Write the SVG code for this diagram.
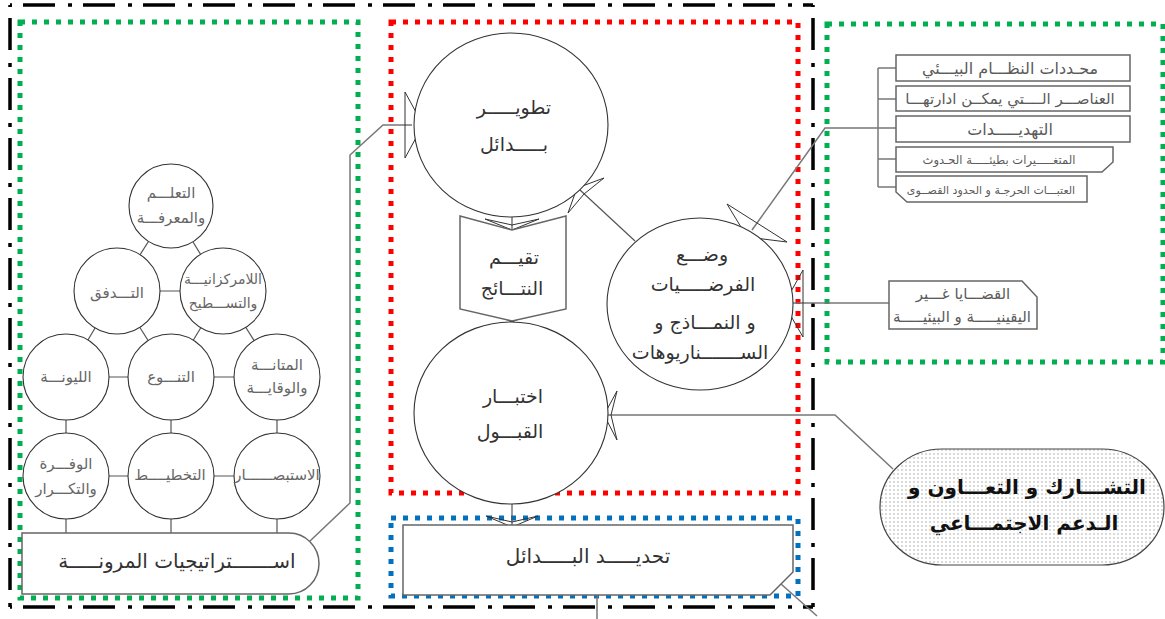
<svg xmlns="http://www.w3.org/2000/svg" width="1165" height="619" viewBox="0 0 1165 619">
  <style>
    .frame { fill: none; stroke: #000; stroke-width: 3.5; stroke-dasharray: 32 13 4 11; stroke-dashoffset: 47; }
    .dots { fill: none; stroke-width: 5; stroke-dasharray: 5 7; }
    .green { stroke: #00b050; }
    .red { stroke: #ff0000; }
    .blue { stroke: #0070c0; }
    .node { fill: #fff; stroke: #333; stroke-width: 1.1; }
    .box { fill: #fff; stroke: #666; stroke-width: 1.5; }
    .link { fill: none; stroke: #555; stroke-width: 1.2; }
    .conn { fill: none; stroke: #777; stroke-width: 1.5; }
    .head { fill: none; stroke: #333; stroke-width: 1; }
    text { font-family: "DejaVu Sans", sans-serif; text-anchor: middle; }
    .t-small { font-size: 15px; fill: #666; }
    .t-main { font-size: 19px; fill: #333; }
    .t-box { font-size: 15px; fill: #5a5a5a; }
    .t-bold { font-size: 20px; fill: #111; font-weight: bold; }
  </style>
  <defs>
    <pattern id="dotfill" width="4" height="4" patternUnits="userSpaceOnUse">
      <rect width="4" height="4" fill="#fff"/>
      <circle cx="2" cy="2" r="0.7" fill="#999"/>
    </pattern>
  </defs>

  <rect width="1165" height="619" fill="#fff"/>

  <!-- outer dash-dot frame -->
  <g id="frame">
    <line class="frame" x1="10" y1="5" x2="813" y2="5"/>
    <line class="frame" x1="10" y1="5" x2="10" y2="607"/>
    <line class="frame" x1="10" y1="607" x2="813" y2="607"/>
    <line class="frame" x1="813" y1="5" x2="813" y2="607"/>
  </g>

  <!-- dotted group outlines -->
  <g id="groups">
    <rect class="dots green" x="20" y="22" width="338" height="576"/>
    <rect class="dots red" x="391" y="22" width="407" height="471"/>
    <rect class="dots blue" x="391" y="518" width="407" height="78"/>
    <rect class="dots green" x="827" y="24" width="336" height="338"/>
  </g>

  <!-- connectors -->
  <g id="connectors">
    <!-- resilience web -->
    <g class="link">
      <line x1="171" y1="206" x2="117" y2="291"/>
      <line x1="171" y1="206" x2="223" y2="291"/>
      <line x1="117" y1="291" x2="223" y2="291"/>
      <line x1="117" y1="291" x2="66" y2="377"/>
      <line x1="117" y1="291" x2="171" y2="377"/>
      <line x1="223" y1="291" x2="171" y2="377"/>
      <line x1="223" y1="291" x2="277" y2="377"/>
      <line x1="66" y1="377" x2="277" y2="377"/>
      <line x1="66" y1="377" x2="66" y2="533"/>
      <line x1="171" y1="377" x2="171" y2="533"/>
      <line x1="277" y1="377" x2="277" y2="533"/>
      <line x1="66" y1="476" x2="277" y2="476"/>
    </g>
    <!-- strategies to alternatives -->
    <polyline class="conn" points="310,541 350,503 350,155 383,125 412,125"/>
    <polygon class="head" points="405,92 423,125 405,158"/>
    <!-- assumptions to alternatives -->
    <line class="link" x1="635" y1="241" x2="580" y2="190"/>
    <polygon class="head" points="604,178 577,188 568,213 584,194"/>
    <!-- vertical flow -->
    <line class="link" x1="512" y1="216" x2="512" y2="229"/>
    <polygon class="head" points="485,219 512,230 539,219 512,225"/>
    <line class="link" x1="512" y1="310" x2="512" y2="321"/>
    <polygon class="head" points="487,311 512,322 537,311 512,317"/>
    <line class="link" x1="512" y1="504" x2="512" y2="527"/>
    <polygon class="head" points="486,516 512,527 538,516 512,522"/>
    <!-- ecosystem factors to assumptions -->
    <polyline class="conn" points="897,128 825,128 752,230"/>
    <polygon class="head" points="727,204 747,237 787,242"/>
    <line class="conn" x1="878" y1="68" x2="878" y2="187"/>
    <line class="conn" x1="878" y1="68" x2="896" y2="68"/>
    <line class="conn" x1="878" y1="99" x2="896" y2="99"/>
    <line class="conn" x1="878" y1="159" x2="896" y2="159"/>
    <line class="conn" x1="878" y1="187" x2="896" y2="187"/>
    <!-- uncertainty to assumptions -->
    <line class="conn" x1="889" y1="303" x2="787" y2="303"/>
    <polygon class="head" points="803,270 784,304 803,337"/>
    <!-- participation to acceptance test -->
    <polyline class="conn" points="893,469 835,415 606,415"/>
    <polygon class="head" points="617,391 604,415 617,440 611,415"/>
    <!-- lower stubs -->
    <line class="conn" x1="597" y1="595" x2="597" y2="619"/>
    <line class="conn" x1="781" y1="584" x2="817" y2="616"/>
  </g>

  <!-- resilience circles -->
  <g id="n-learning">
    <circle class="node" cx="171" cy="206" r="42"/>
    <text class="t-small" x="171" y="198">التعلـــم</text>
    <text class="t-small" x="171" y="223">والمعرفـــة</text>
  </g>
  <g id="n-flow">
    <circle class="node" cx="117" cy="291" r="43"/>
    <text class="t-small" x="117" y="298">التـــدفق</text>
  </g>
  <g id="n-decentral">
    <circle class="node" cx="223" cy="291" r="43"/>
    <text class="t-small" x="223" y="284" style="font-size:14px">اللامركزانيـــة</text>
    <text class="t-small" x="223" y="308" style="font-size:14px">والتســـطيح</text>
  </g>
  <g id="n-flexibility">
    <circle class="node" cx="66" cy="377" r="43"/>
    <text class="t-small" x="66" y="382">الليونـــة</text>
  </g>
  <g id="n-diversity">
    <circle class="node" cx="171" cy="377" r="43"/>
    <text class="t-small" x="171" y="382">التنـــوع</text>
  </g>
  <g id="n-robustness">
    <circle class="node" cx="277" cy="377" r="43"/>
    <text class="t-small" x="277" y="370">المتانـــة</text>
    <text class="t-small" x="277" y="393">والوقايـــة</text>
  </g>
  <g id="n-redundancy">
    <circle class="node" cx="66" cy="476" r="43"/>
    <text class="t-small" x="66" y="469">الوفـــرة</text>
    <text class="t-small" x="66" y="494">والتكـــرار</text>
  </g>
  <g id="n-planning">
    <circle class="node" cx="171" cy="476" r="43"/>
    <text class="t-small" x="170" y="480">التخطيــــط</text>
  </g>
  <g id="n-foresight">
    <circle class="node" cx="277" cy="476" r="43"/>
    <text class="t-small" x="277" y="480">الاستبصــــــار</text>
  </g>
  <g id="n-strategies">
    <path class="box" d="M22,533 H289 A30,30.5 0 0 1 289,594 H22 Z"/>
    <text class="t-main" x="177" y="568" style="font-size:20px">اســـــــتراتيجيات المرونـــــة</text>
  </g>

  <!-- central process -->
  <g id="n-develop">
    <ellipse class="node" cx="511" cy="125" rx="97" ry="92"/>
    <text class="t-main" x="514" y="114">تطويـــــر</text>
    <text class="t-main" x="514" y="151">بـــــدائل</text>
  </g>
  <g id="n-evaluate">
    <path class="box" d="M460,216 L512,230 L566,216 V309 L512,321 L460,309 Z"/>
    <text class="t-main" x="514" y="264">تقيـــم</text>
    <text class="t-main" x="512" y="295">النتـــائج</text>
  </g>
  <g id="n-acceptance">
    <ellipse class="node" cx="511" cy="413" rx="97" ry="91"/>
    <text class="t-main" x="513" y="403">اختبـــار</text>
    <text class="t-main" x="510" y="438">القبـــول</text>
  </g>
  <g id="n-assumptions">
    <ellipse class="node" cx="700" cy="304" rx="93" ry="86"/>
    <text class="t-main" x="702" y="261">وضـــع</text>
    <text class="t-main" x="703" y="291">الفرضـــــيات</text>
    <text class="t-main" x="705" y="329">و النمـــاذج و</text>
    <text class="t-main" x="700" y="359">الســـــــناريوهات</text>
  </g>
  <g id="n-select">
    <path class="box" d="M403,525 H793 V572 L770,595 H403 Z"/>
    <text class="t-main" x="588" y="563" style="font-size:20px">تحديـــــد البـــــدائل</text>
  </g>

  <!-- ecosystem factors -->
  <g id="n-boundaries">
    <rect class="box" x="896" y="55" width="234" height="26"/>
    <text class="t-box" x="1010" y="74" style="font-size:16px">محـددات النظـــام البيـــئي</text>
  </g>
  <g id="n-manageable">
    <rect class="box" x="896" y="86" width="234" height="25"/>
    <text class="t-box" x="1010" y="104">العناصـــر الــــتي يمكــن ادارتهـــا</text>
  </g>
  <g id="n-threats">
    <rect class="box" x="896" y="116" width="234" height="26"/>
    <text class="t-box" x="1010" y="135" style="font-size:16px">التهديـــــدات</text>
  </g>
  <g id="n-slow">
    <path class="box" d="M896,147 H1113 V162 L1102,172 H896 Z"/>
    <text class="t-box" x="999" y="164" style="font-size:11.5px">المتغـــــيرات بطيئـــــة الحـدوث</text>
  </g>
  <g id="n-thresholds">
    <path class="box" d="M896,176 H1087 V202 H907 L896,192 Z"/>
    <text class="t-box" x="991" y="194" style="font-size:11px">العتبـــات الحرجـة و الحدود القصــوى</text>
  </g>
  <g id="n-uncertain">
    <path class="box" d="M889,281 H1022 L1037,297 V329 H889 Z"/>
    <text class="t-box" x="963" y="299">القضـــايا غـــير</text>
    <text class="t-box" x="962" y="322">اليقينيـــــة و البيئيـــــة</text>
  </g>

  <!-- participation -->
  <g id="n-participation">
    <rect x="880" y="449" width="284" height="116" rx="62" ry="58" fill="url(#dotfill)" stroke="#444" stroke-width="1.2"/>
    <text class="t-bold" x="1027" y="494">التشـــارك و التعـــاون و</text>
    <text class="t-bold" x="1024" y="530">الـدعم الاجتمـــاعي</text>
  </g>
</svg>
